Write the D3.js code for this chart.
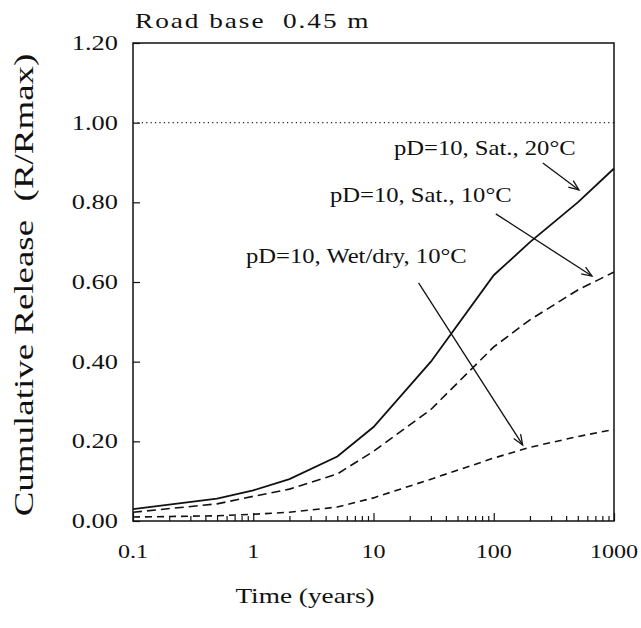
<!DOCTYPE html>
<html>
<head>
<meta charset="utf-8">
<script src="https://cdn.jsdelivr.net/npm/d3@7"></script>
<style>
  body { margin: 0; background: #fff; }
  text { font-family: "Liberation Serif", "Times New Roman", serif; fill: #111; white-space: pre; }
</style>
</head>
<body>
<svg width="641" height="628"></svg>
<script>
// Time points (years) and cumulative release
var times = [0.1, 0.5, 1, 2, 5, 10, 30, 100, 200, 500, 1000];
var sat20 = [0.03, 0.056, 0.077, 0.105, 0.162, 0.236, 0.40, 0.617, 0.70, 0.80, 0.885];
var sat10 = [0.022, 0.043, 0.062, 0.08, 0.118, 0.175, 0.28, 0.437, 0.505, 0.58, 0.625];
var wetDry10 = [0.01, 0.013, 0.017, 0.022, 0.035, 0.058, 0.105, 0.158, 0.185, 0.212, 0.23];

var xTickValues = [0.1, 1, 10, 100, 1000];
var xTickLabels = ['0.1', '1', '10', '100', '1000'];
var yTickValues = [0, 0.2, 0.4, 0.6, 0.8, 1.0, 1.2];

// annotations: label anchor (right end) and arrow start / end in data units
var annoLabels = ['pD=10, Sat., 20\u00B0C', 'pD=10, Sat., 10\u00B0C', 'pD=10, Wet/dry, 10\u00B0C'];
var annoText = [[480, 0.92], [141, 0.80], [59.6, 0.648]];
var annoFrom = [[256, 0.899], [104, 0.771], [23.7, 0.598]];
var annoTo = [[511, 0.831], [656, 0.615], [174, 0.191]];

var svg = d3.select('svg');

var margin = { left: 133, right: 27, top: 43, bottom: 107 };
var width = 641 - margin.left - margin.right;
var height = 628 - margin.top - margin.bottom;

var x = d3.scaleLog().domain([0.1, 1000]).range([0, width]);
var y = d3.scaleLinear().domain([0, 1.2]).range([height, 0]);

var g = svg.append('g')
  .attr('transform', 'translate(' + margin.left + ',' + margin.top + ')');

// text drawn a bit wider than the font, like the scanned figure
function label(parent, px, py, str, size, sx, anchor, rotate) {
  var t = parent.append('g')
    .attr('transform', 'translate(' + px + ',' + py + ')' + (rotate ? ' rotate(' + rotate + ')' : ''))
    .append('text')
    .attr('transform', 'scale(' + sx + ',1)')
    .attr('font-size', size)
    .attr('text-anchor', anchor || 'start')
    .text(str);
  return t;
}

// x axis, ticks pointing inward
var xAxis = d3.axisBottom(x).tickSize(-5).tickFormat('');
var xg = g.append('g')
  .attr('transform', 'translate(0,' + height + ')')
  .call(xAxis);
xg.select('.domain').remove();
xg.selectAll('.tick line')
  .attr('stroke', '#111')
  .attr('stroke-width', 1.2)
  .attr('y2', function (d) { return xTickValues.indexOf(d) >= 0 ? -8 : -5; });

xTickValues.forEach(function (v, i) {
  label(g, x(v), height + 37, xTickLabels[i], 19, 1.27, 'middle');
});

// y axis, ticks pointing inward
var yAxis = d3.axisLeft(y).tickValues(yTickValues).tickSize(-7).tickFormat('');
var yg = g.append('g').call(yAxis);
yg.select('.domain').remove();
yg.selectAll('.tick line').attr('stroke', '#111').attr('stroke-width', 1.2);

yTickValues.forEach(function (v) {
  label(g, -15, y(v) + 7, d3.format('.2f')(v), 20, 1.32, 'end');
});

// frame
g.append('rect')
  .attr('width', width)
  .attr('height', height)
  .attr('fill', 'none')
  .attr('stroke', '#111')
  .attr('stroke-width', 1.5);

// reference line at R/Rmax = 1
g.append('line')
  .attr('x1', 0).attr('x2', width)
  .attr('y1', y(1)).attr('y2', y(1))
  .attr('stroke', '#222')
  .attr('stroke-width', 1.2)
  .attr('stroke-dasharray', '1.2,3.2');

var line = d3.line()
  .x(function (d) { return x(d[0]); })
  .y(function (d) { return y(d[1]); });

function series(vals) {
  return times.map(function (t, i) { return [t, vals[i]]; });
}

g.append('path')
  .datum(series(sat20))
  .attr('fill', 'none').attr('stroke', '#111').attr('stroke-width', 1.8)
  .attr('d', line);

g.append('path')
  .datum(series(sat10))
  .attr('fill', 'none').attr('stroke', '#111').attr('stroke-width', 1.6)
  .attr('stroke-dasharray', '9,5')
  .attr('d', line);

g.append('path')
  .datum(series(wetDry10))
  .attr('fill', 'none').attr('stroke', '#111').attr('stroke-width', 1.6)
  .attr('stroke-dasharray', '7,5')
  .attr('d', line);

// annotations with arrows
annoLabels.forEach(function (s, i) {
  label(g, x(annoText[i][0]), y(annoText[i][1]), s, 22, 1.12, 'end');
  var x1 = x(annoFrom[i][0]), y1 = y(annoFrom[i][1]);
  var x2 = x(annoTo[i][0]), y2 = y(annoTo[i][1]);
  g.append('line')
    .attr('x1', x1).attr('y1', y1).attr('x2', x2).attr('y2', y2)
    .attr('stroke', '#111').attr('stroke-width', 1.3);
  var a = Math.atan2(y2 - y1, x2 - x1);
  var len = 11, spread = 0.38;
  var head = [
    [x2 - len * Math.cos(a - spread), y2 - len * Math.sin(a - spread)],
    [x2, y2],
    [x2 - len * Math.cos(a + spread), y2 - len * Math.sin(a + spread)]
  ];
  g.append('path')
    .attr('d', d3.line()(head))
    .attr('fill', 'none').attr('stroke', '#111').attr('stroke-width', 1.3);
});

// title and axis titles
label(svg, 135, 28, 'Road base  0.45 m', 21, 1.3, 'start').attr('letter-spacing', 1.5);
label(svg, 305, 603, 'Time (years)', 21, 1.3, 'middle');
label(svg, 33, 285, 'Cumulative Release  (R/Rmax)', 28, 1.32, 'middle', -90);
</script>
</body>
</html>
